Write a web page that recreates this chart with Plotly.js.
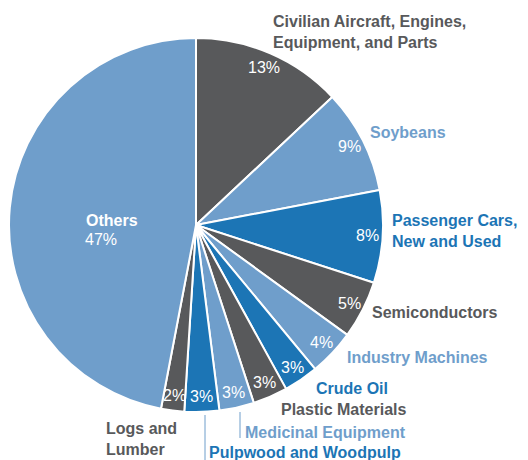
<!DOCTYPE html>
<html>
<head>
<meta charset="utf-8">
<script src="https://cdn.plot.ly/plotly-3.0.1.min.js"></script>
<style>html,body{margin:0;padding:0;background:#fff;}#chart{width:528px;height:460px;}</style>
</head>
<body>
<div id="chart"></div>
<script>
// ---- data ----
const categories = ['Civilian Aircraft, Engines, Equipment, and Parts','Soybeans','Passenger Cars, New and Used','Semiconductors','Industry Machines','Crude Oil','Plastic Materials','Medicinal Equipment','Pulpwood and Woodpulp','Logs and Lumber','Others'];
const shares = [13, 9, 8, 5, 4, 3, 3, 3, 3, 2, 47];
const labelLines = ['Civilian Aircraft, Engines,<br>Equipment, and Parts','Soybeans','Passenger Cars,<br>New and Used','Semiconductors','Industry Machines','Crude Oil','Plastic Materials','Medicinal Equipment','Pulpwood and Woodpulp','Logs and<br>Lumber','Others'];

// ---- style ----
const GRAY = '#58595b', LBLUE = '#6f9ecb', BLUE = '#1c75b5';
const sliceColors = [GRAY, LBLUE, BLUE, GRAY, LBLUE, BLUE, GRAY, LBLUE, BLUE, GRAY, LBLUE];
const W = 528, H = 460, CX = 196, CY = 225, R = 187;
const FONT = 'Liberation Sans, Arial, Helvetica, sans-serif';
// outside label anchor positions (pixels, left edge / vertical middle)
const labelPos = [[271,32],[368,132],[390,231],[370,312],[345,357],[314,388],[279,409],[243,432],[207,452],[104,439],null];
const pctRadius = 0.92;

const px = x => x / W, py = y => 1 - y / H;

const trace = {
  type: 'pie',
  labels: categories,
  values: shares,
  sort: false,
  direction: 'clockwise',
  rotation: 0,
  textinfo: 'none',
  hoverinfo: 'label+percent',
  marker: {colors: sliceColors, line: {color: '#ffffff', width: 2}},
  domain: {x: [px(CX - R), px(CX + R)], y: [py(CY + R), py(CY - R)]},
  showlegend: false
};

const total = shares.reduce((a, b) => a + b, 0);
const annotations = [];
const shapes = [];
let cum = 0;
shares.forEach((v, i) => {
  const mid = (cum + v / 2) / total * 2 * Math.PI;
  cum += v;
  const pct = Math.round(v / total * 100) + '%';
  if (i === shares.length - 1) {
    annotations.push({xref:'paper', yref:'paper', x: px(84), y: py(220), xanchor:'left', yanchor:'middle', showarrow:false,
      text:'<b>' + labelLines[i] + '</b>', font:{family:FONT, size:16, color:'#ffffff'}});
    annotations.push({xref:'paper', yref:'paper', x: px(83), y: py(239), xanchor:'left', yanchor:'middle', showarrow:false,
      text: pct, font:{family:FONT, size:16, color:'#ffffff'}});
    return;
  }
  const tx = CX + Math.sin(mid) * R * pctRadius;
  const ty = CY - Math.cos(mid) * R * pctRadius;
  annotations.push({xref:'paper', yref:'paper', x: px(tx), y: py(ty), xanchor:'center', yanchor:'middle', showarrow:false,
    text: pct, font:{family:FONT, size:16, color:'#ffffff'}});
  const p = labelPos[i];
  annotations.push({xref:'paper', yref:'paper', x: px(p[0]), y: py(p[1]), xanchor:'left', yanchor:'middle', align:'left', showarrow:false,
    text: '<b>' + labelLines[i] + '</b>', font:{family:FONT, size:16, color: sliceColors[i]}});
});
// leader lines for the two crowded labels
shapes.push({type:'line', xref:'paper', yref:'paper', x0:px(240), x1:px(240), y0:py(412), y1:py(438), line:{color:LBLUE, width:1}});
shapes.push({type:'line', xref:'paper', yref:'paper', x0:px(205), x1:px(205), y0:py(415), y1:py(460), line:{color:LBLUE, width:1}});

const layout = {
  width: W, height: H,
  margin: {l:0, r:0, t:0, b:0},
  paper_bgcolor: '#ffffff',
  plot_bgcolor: '#ffffff',
  annotations: annotations,
  shapes: shapes,
  font: {family: FONT}
};

Plotly.newPlot('chart', [trace], layout, {displayModeBar:false, staticPlot:true});
</script>
</body>
</html>
